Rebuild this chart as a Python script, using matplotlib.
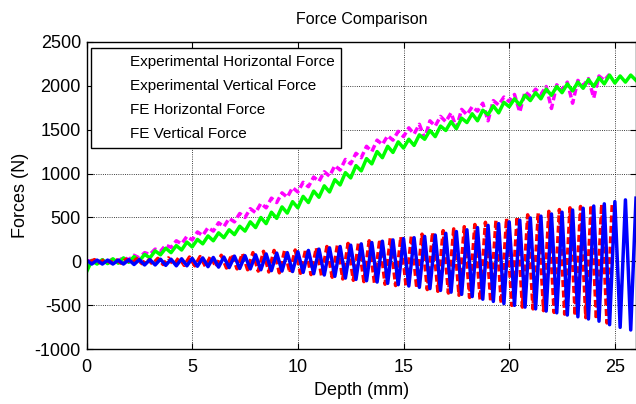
import numpy as np
import matplotlib
matplotlib.use("Agg")
import matplotlib.pyplot as plt
from matplotlib.lines import Line2D

plt.rcParams['font.family'] = ['Liberation Sans', 'DejaVu Sans']
plt.rcParams['axes.unicode_minus'] = False

# ---------------- data ----------------
# Experimental horizontal force (magenta dashed), samples every 0.25 mm from 0
exp_h_start, exp_h_step = 0.0, 0.25
exp_h = [0, 10, -10, 15, 0, 25, 5, 45, 20, 70, 40, 100, 80, 140, 115, 185,
         160, 235, 200, 285, 245, 335, 295, 385, 345, 440, 395, 490, 450, 545,
         500, 600, 555, 660, 610, 720, 670, 780, 730, 840, 790, 900, 850, 960,
         910, 1020, 970, 1090, 1040, 1160, 1110, 1230, 1180, 1310, 1250, 1380,
         1330, 1430, 1380, 1480, 1420, 1520, 1450, 1560, 1400, 1600, 1540, 1650,
         1590, 1690, 1520, 1730, 1670, 1760, 1710, 1800, 1600, 1830, 1780, 1870,
         1820, 1900, 1700, 1930, 1880, 1960, 1900, 1990, 1740, 2010, 1950, 2040,
         1800, 2060, 2000, 2080, 1860, 2110, 2060, 2130]

# Experimental vertical force (green solid), samples every 0.25 mm from 0
exp_v_start, exp_v_step = 0.0, 0.25
exp_v = [-120, 10, -30, 20, -25, 30, -20, 40, -10, 55, 5, 80, 40, 120, 75, 150,
         100, 180, 130, 220, 165, 250, 200, 290, 235, 325, 270, 360, 305, 400,
         345, 450, 385, 500, 430, 560, 490, 620, 550, 680, 610, 740, 670, 800,
         730, 860, 790, 930, 870, 1010, 950, 1090, 1030, 1170, 1110, 1250, 1180,
         1310, 1240, 1360, 1290, 1390, 1320, 1440, 1390, 1490, 1420, 1540, 1490,
         1590, 1510, 1630, 1580, 1680, 1600, 1720, 1670, 1770, 1690, 1810, 1760,
         1850, 1780, 1890, 1830, 1920, 1850, 1960, 1890, 1990, 1920, 2020, 1940,
         2040, 1970, 2070, 1990, 2090, 2020, 2120, 2030, 2110, 2040, 2120, 2060]

# FE horizontal force (red dashed), peaks/troughs every 0.25 mm from 0.125
fe_h_start, fe_h_step = 0.125, 0.25
fe_h = [-10, 20, -15, 25, -15, 25, -20, 25, -25, 30, -25, 30, -30, 35, -35, 40,
        -40, 45, -45, 50, -50, 55, -55, 60, -65, 70, -75, 80, -85, 90, -95, 100,
        -110, 115, -120, 125, -130, 125, -130, 130, -135, 140, -150, 155, -165,
        170, -180, 190, -200, 205, -215, 220, -230, 235, -245, 250, -260, 265,
        -275, 280, -290, 295, -305, 310, -320, 330, -340, 350, -360, 370, -385,
        395, -410, 420, -440, 445, -460, 470, -480, 490, -500, 510, -520, 530,
        -540, 550, -560, 570, -580, 590, -600, 610, -620, 625, -640, 640, -660,
        650, -700, 650]

# FE vertical force (blue solid), peaks/troughs every 0.25 mm from 0
fe_v_start, fe_v_step = 0.0, 0.25
fe_v = [15, -30, 15, -30, 15, -30, 15, -30, 20, -35, 20, -40, 20, -40, 25, -45,
        25, -50, 30, -50, 35, -55, 40, -60, 45, -65, 50, -70, 60, -80, 65, -85,
        75, -95, 85, -105, 95, -110, 100, -115, 110, -125, 125, -140, 140, -155,
        155, -170, 170, -190, 185, -205, 200, -220, 215, -235, 230, -250, 245,
        -265, 260, -280, 270, -295, 285, -310, 300, -330, 320, -350, 340, -375,
        360, -400, 385, -430, 410, -455, 430, -480, 450, -500, 470, -520, 495,
        -540, 515, -565, 540, -585, 560, -610, 585, -630, 605, -655, 630, -680,
        655, -720, 680, -750, 700, -780, 720]

labels = ['Experimental Horizontal Force', 'Experimental Vertical Force',
          'FE Horizontal Force', 'FE Vertical Force']
title = 'Force Comparison'
xlabel = 'Depth (mm)'
ylabel = 'Forces (N)'
xticks = [0, 5, 10, 15, 20, 25]
yticks = [-1000, -500, 0, 500, 1000, 1500, 2000, 2500]


def xs(start, step, vals):
    return start + step * np.arange(len(vals))


# ---------------- figure ----------------
fig = plt.figure(figsize=(6.36, 4.04), dpi=100)
ax = fig.add_axes([86.5 / 636, 1 - 349.3 / 404, (636 - 86.5) / 636, (349.3 - 41.7) / 404])

common = dict(lw=2.5, solid_joinstyle='round', dash_joinstyle='round')
ax.plot(xs(exp_h_start, exp_h_step, exp_h), exp_h, color='#ff00ff',
        ls='--', dashes=(2, 1), label=labels[0], **common)
ax.plot(xs(exp_v_start, exp_v_step, exp_v), exp_v, color='#00ff00',
        label=labels[1], **common)
ax.plot(xs(fe_h_start, fe_h_step, fe_h), fe_h, color='#ff0000',
        ls='--', dashes=(2, 1), label=labels[2], **common)
ax.plot(xs(fe_v_start, fe_v_step, fe_v), fe_v, color='#0000ff',
        label=labels[3], **common)

ax.set_xlim(0, 26)
ax.set_ylim(-1000, 2500)
ax.set_xticks(xticks)
ax.set_yticks(yticks)
ax.grid(True, ls=':', color='black', lw=0.6)
ax.tick_params(direction='in', length=4, width=0.8, top=True, right=True,
               labelsize=13)
ax.tick_params(axis='x', pad=7)
ax.tick_params(axis='y', pad=4)
for s in ax.spines.values():
    s.set_linewidth(1.0)

ax.set_title(title, fontsize=11.5, pad=13)
ax.set_xlabel(xlabel, fontsize=13, labelpad=4)
ax.set_ylabel(ylabel, fontsize=13, labelpad=4)

handles = [Line2D([], [], color='white', lw=2) for _ in labels]
leg = ax.legend(handles, labels, loc='upper left', bbox_to_anchor=(0.008, 0.98),
                borderaxespad=0, fontsize=11, frameon=True, fancybox=False,
                edgecolor='black', framealpha=1, labelspacing=0.66,
                handlelength=1.3, handletextpad=0.8, borderpad=0.45)
leg.get_frame().set_linewidth(1.0)

fig.savefig('out.png', dpi=100)
